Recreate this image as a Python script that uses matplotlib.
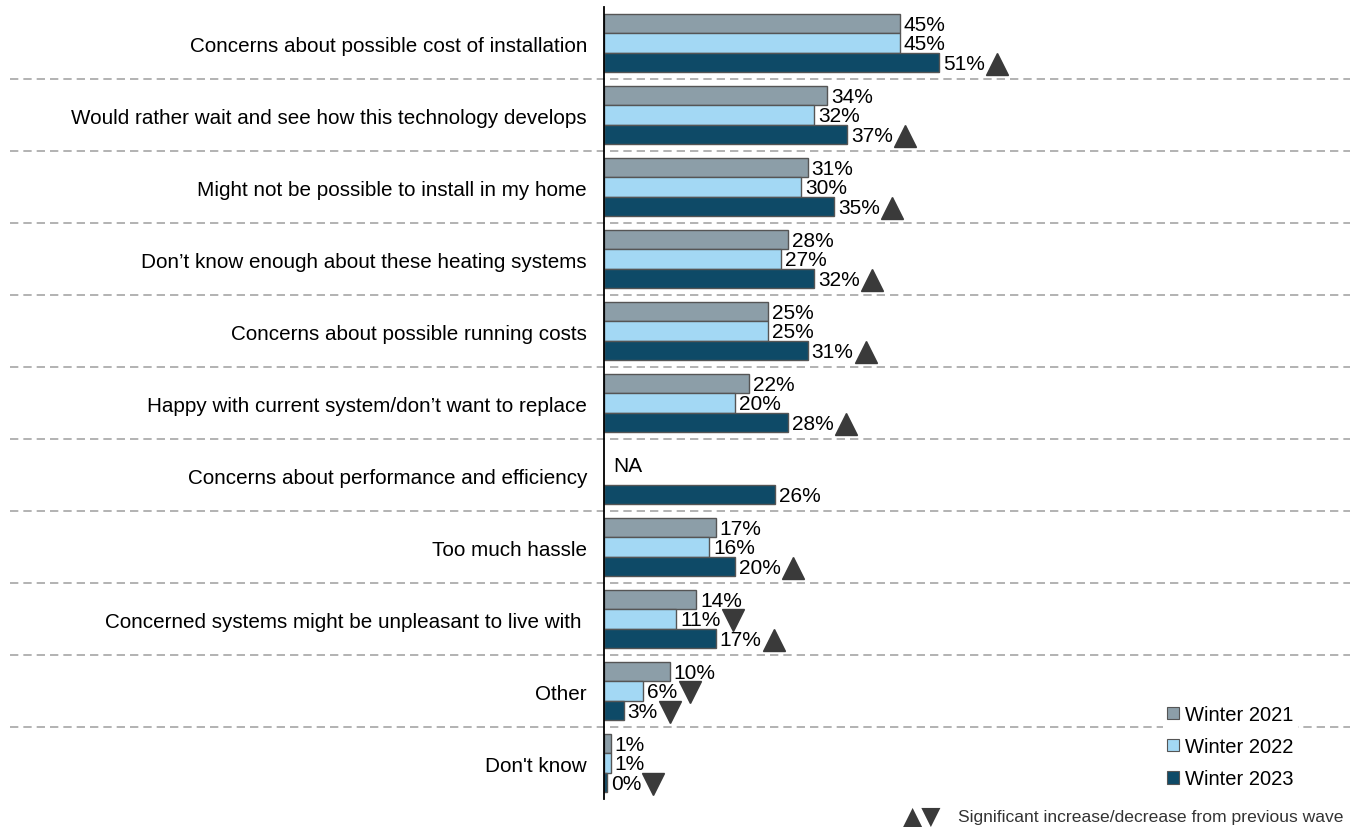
import numpy as np
import matplotlib.pyplot as plt
import matplotlib.transforms as mtransforms
from matplotlib.patches import Patch

plt.rcParams["font.family"] = ["Liberation Sans", "DejaVu Sans"]

# ── data ──────────────────────────────────────────────────────────────────────
categories = [
    "Concerns about possible cost of installation",
    "Would rather wait and see how this technology develops",
    "Might not be possible to install in my home",
    "Don\u2019t know enough about these heating systems",
    "Concerns about possible running costs",
    "Happy with current system/don\u2019t want to replace",
    "Concerns about performance and efficiency",
    "Too much hassle",
    "Concerned systems might be unpleasant to live with ",
    "Other",
    "Don't know",
]
series = ["Winter 2021", "Winter 2022", "Winter 2023"]
w2021 = [45, 34, 31, 28, 25, 22, None, 17, 14, 10, 1]
w2022 = [45, 32, 30, 27, 25, 20, None, 16, 11, 6, 1]
w2023 = [51, 37, 35, 32, 31, 28, 26, 20, 17, 3, 0.4]
# significance vs previous wave: "up", "down" or None
sig2021 = [None] * 11
sig2022 = [None, None, None, None, None, None, None, None, "down", "down", None]
sig2023 = ["up", "up", "up", "up", "up", "up", None, "up", "up", "down", "down"]

colors = ["#8c9ea8", "#a3d8f4", "#0e4a67"]
values = [w2021, w2022, w2023]
sigs = [sig2021, sig2022, sig2023]

# ── figure ────────────────────────────────────────────────────────────────────
W, H = 1359, 828
fig = plt.figure(figsize=(W / 100, H / 100), dpi=100)
ax = fig.add_axes([604 / W, 1 - 800 / H, 1 - 604 / W, 792 / H])

bar_h = 0.265
offsets = [-bar_h, 0, bar_h]
y = np.arange(len(categories))

for vals, col, off in zip(values, colors, offsets):
    for i, v in enumerate(vals):
        if v is None:
            continue
        ax.barh(y[i] + off, v, height=bar_h, color=col,
                edgecolor="#555555", linewidth=1)

ax.set_xlim(0, 755 / 6.57)
ax.set_ylim(len(categories) - 0.5, -0.5)
for s in ["top", "right", "bottom"]:
    ax.spines[s].set_visible(False)
ax.spines["left"].set_color("black")
ax.spines["left"].set_linewidth(1.3)
ax.set_xticks([])
ax.set_yticks([])

# category labels, right aligned left of the axis
lab_tr = mtransforms.blended_transform_factory(fig.transFigure, ax.transData)
for i, cat in enumerate(categories):
    ax.text(587 / W, y[i] + 0.03, cat, transform=lab_tr, ha="right",
            va="center", fontsize=14.9, color="black")

# dashed separators between groups, spanning the whole width
for i in range(len(categories) - 1):
    ax.plot([10 / W, 1350 / W], [i + 0.5, i + 0.5], transform=lab_tr,
            color="#a6a6a6", linestyle=(0, (5, 3)), linewidth=1.2,
            clip_on=False, zorder=0)

# value labels
val_texts = []
for vals, sg, off in zip(values, sigs, offsets):
    for i, v in enumerate(vals):
        if v is None:
            continue
        t = ax.annotate(f"{v:.0f}%", (v, y[i] + off), xytext=(4, -1),
                        textcoords="offset pixels", ha="left", va="center",
                        fontsize=15, color="black")
        val_texts.append((t, sg[i], y[i] + off))

ax.annotate("NA", (0, y[6] - bar_h / 2), xytext=(9, 0),
            textcoords="offset pixels", ha="left", va="center",
            fontsize=15, color="black")

# significance triangles placed right after each label
fig.canvas.draw()
renderer = fig.canvas.get_renderer()
inv = ax.transData.inverted()
for t, s, yy in val_texts:
    if s is None:
        continue
    bb = t.get_window_extent(renderer)
    px = bb.x1 + 12
    xd = inv.transform((px, 0))[0]
    ax.plot(xd, yy + 0.02, marker="^" if s == "up" else "v", ms=16,
            color="#3a3a3a", clip_on=False, zorder=5)

# legend
handles = [Patch(facecolor=c, edgecolor="#555555", linewidth=0.8) for c in colors]
leg = fig.legend(handles, series, loc="upper left",
                 bbox_to_anchor=(1163 / W, 1 - 702 / H), frameon=True,
                 fontsize=14.5, handlelength=0.6, handleheight=0.6,
                 handletextpad=0.3, labelspacing=0.65, borderpad=0.2,
                 borderaxespad=0)
leg.get_frame().set_facecolor("white")
leg.get_frame().set_edgecolor("none")
leg.get_frame().set_alpha(1)

# significance note
fig.text(903 / W, 1 - 817 / H, "\u25b2\u25bc", fontsize=18, color="#3a3a3a",
         ha="left", va="center", family="DejaVu Sans")
fig.text(1343 / W, 1 - 818 / H,
         "Significant increase/decrease from previous wave",
         fontsize=12.6, color="#333333", ha="right", va="center")

fig.savefig("out.png", dpi=100)
